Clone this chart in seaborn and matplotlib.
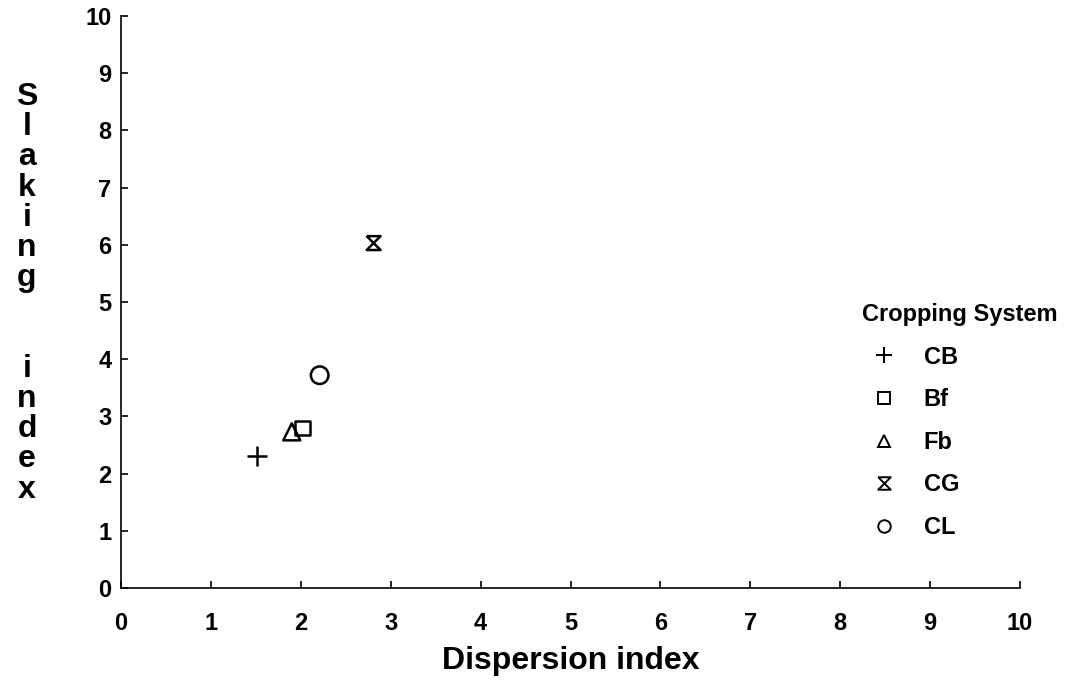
import matplotlib
matplotlib.use("Agg")
import matplotlib.pyplot as plt
from matplotlib.lines import Line2D
import seaborn as sns
import pandas as pd

# ---- data ----
systems = ["CB", "Bf", "Fb", "CG", "CL"]
dispersion_index = [1.51, 2.02, 1.90, 2.81, 2.21]
slaking_index = [2.30, 2.80, 2.73, 6.03, 3.72]
ticks = list(range(0, 11))
x_label = "Dispersion index"
y_label_words = ["Slaking", "index"]
legend_title = "Cropping System"

df = pd.DataFrame({"system": systems, "x": dispersion_index, "y": slaking_index})

# ---- style ----
sns.set_theme(style="white")
plt.rcParams["font.family"] = ["Liberation Sans", "DejaVu Sans"]
plt.rcParams["font.weight"] = "bold"
plt.rcParams["text.color"] = "black"
plt.rcParams["axes.labelcolor"] = "black"
plt.rcParams["xtick.color"] = "black"
plt.rcParams["ytick.color"] = "black"

hourglass = [(-1, 1), (1, 1), (-1, -1), (1, -1), (-1, 1)]
marker_map = {"CB": "+", "Bf": "s", "Fb": "^", "CG": hourglass, "CL": "o"}
size_map = {"CB": 190, "Bf": 110, "Fb": 150, "CG": 100, "CL": 160}

W, H = 1070, 698
fig = plt.figure(figsize=(W / 100, H / 100), dpi=100)
ax = fig.add_axes([121 / W, (H - 588) / H, 899 / W, (588 - 16) / H])

for sysname in systems:
    sub = df[df["system"] == sysname]
    m = marker_map[sysname]
    if m == "+":
        sns.scatterplot(data=sub, x="x", y="y", marker=m, s=size_map[sysname],
                        color="black", linewidth=1.8, ax=ax, legend=False)
    else:
        sns.scatterplot(data=sub, x="x", y="y", marker=m, s=size_map[sysname],
                        facecolor="none", edgecolor="black", linewidth=1.8,
                        ax=ax, legend=False)

ax.set_xlim(0, 10)
ax.set_ylim(0, 10)
ax.set_xticks(ticks)
ax.set_yticks(ticks)
ax.set_xticklabels([str(t) for t in ticks], fontsize=17, fontweight="bold")
ax.set_yticklabels([str(t) for t in ticks], fontsize=17, fontweight="bold")
for side in ["top", "right"]:
    ax.spines[side].set_visible(False)
for side in ["left", "bottom"]:
    ax.spines[side].set_color("black")
    ax.spines[side].set_linewidth(1.2)
ax.tick_params(axis="x", direction="in", length=5, width=1.2, pad=17,
               colors="black", bottom=True)
ax.tick_params(axis="y", direction="in", length=5, width=1.2, pad=7,
               colors="black", left=True)

ax.set_xlabel(x_label, fontsize=23, fontweight="bold", labelpad=8, color="black")
ax.set_ylabel("")

# vertical stacked y-label letters
top_baseline = 105
step = 30.2
k = 0
for wi, word in enumerate(y_label_words):
    if wi > 0:
        k += 2
    for ch in word:
        fig.text(27 / W, 1 - (top_baseline + k * step) / H, ch, fontsize=23,
                 fontweight="bold", ha="center", va="baseline", color="black")
        k += 1

# legend
handles = []
for sysname in systems:
    m = marker_map[sysname]
    if m == "+":
        h = Line2D([], [], linestyle="none", marker=m, color="black",
                   markersize=12, markeredgewidth=1.4)
    else:
        h = Line2D([], [], linestyle="none", marker=m, markerfacecolor="none",
                   markeredgecolor="black", markersize=9, markeredgewidth=1.4)
    handles.append(h)

leg = fig.legend(handles, systems, title=legend_title, loc="upper left",
                 bbox_to_anchor=(862 / W, 1 - 303 / H), frameon=False,
                 fontsize=17, title_fontproperties={"weight": "bold", "size": 17},
                 alignment="left", borderpad=0, borderaxespad=0,
                 labelspacing=0.83, handlelength=1.9, handletextpad=0.72)
for t in leg.get_texts():
    t.set_fontweight("bold")
    t.set_color("black")
leg.get_title().set_color("black")

fig.savefig("out.png", dpi=100, facecolor="white")
